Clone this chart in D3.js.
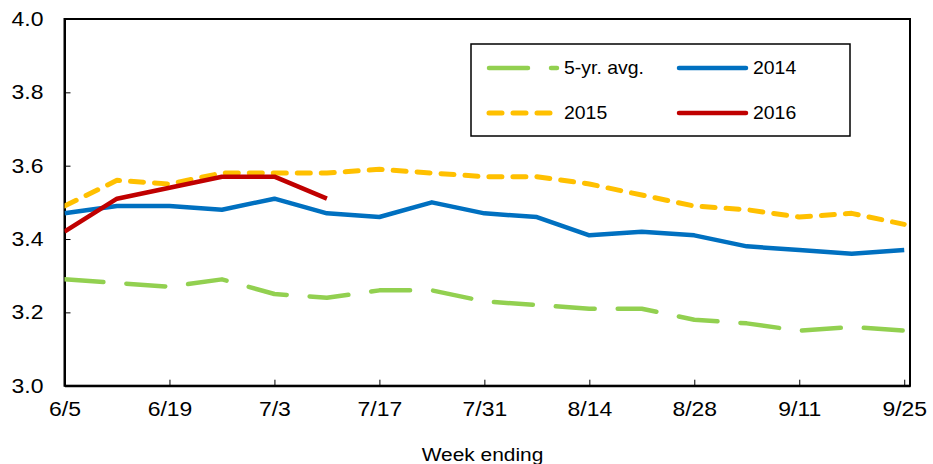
<!DOCTYPE html>
<html>
<head>
<meta charset="utf-8">
<script src="https://cdn.jsdelivr.net/npm/d3@7"></script>
<style>
  html, body { margin: 0; padding: 0; background: #fff; }
  svg { display: block; font-family: "Liberation Sans", Arial, sans-serif; }
</style>
</head>
<body>
<svg id="chart" width="933" height="464"></svg>
<script>
const weeks = ["6/5","6/12","6/19","6/26","7/3","7/10","7/17","7/24","7/31","8/7","8/14","8/21","8/28","9/4","9/11","9/18","9/25"];
const xTickLabels = ["6/5","6/19","7/3","7/17","7/31","8/14","8/28","9/11","9/25"];
const yTicks = [3.0, 3.2, 3.4, 3.6, 3.8, 4.0];
const avg5 = [3.29,3.28,3.27,3.29,3.25,3.24,3.26,3.26,3.23,3.22,3.21,3.21,3.18,3.17,3.15,3.16,3.15];
const y2014 = [3.47,3.49,3.49,3.48,3.51,3.47,3.46,3.50,3.47,3.46,3.41,3.42,3.41,3.38,3.37,3.36,3.37];
const y2015 = [3.49,3.56,3.55,3.58,3.58,3.58,3.59,3.58,3.57,3.57,3.55,3.52,3.49,3.48,3.46,3.47,3.44];
const y2016 = [3.42,3.51,3.54,3.57,3.57,3.51];

const seriesNames = ["5-yr. avg.","2014","2015","2016"];
const seriesColors = ["#92D050","#0070C0","#FFC000","#C00000"];

(function () {
const svg = d3.select("#chart");
const pL = 64.5, pR = 910, pT = 19, pB = 385.7;
const sx = 1.12;

const x = d3.scaleLinear().domain([0, 16.11]).range([pL, pR]);
const y = d3.scaleLinear().domain([3.0, 4.0]).range([pB, pT]);

// frame
svg.append("rect").attr("x", pL).attr("y", pT).attr("width", pR-pL).attr("height", pB-pT)
  .attr("fill", "none").attr("stroke", "#000").attr("stroke-width", 2);

// y axis
const yAxis = d3.axisLeft(y).tickValues(yTicks).tickFormat(d3.format(".1f")).tickSizeInner(-6).tickSizeOuter(0).tickPadding(20);
const gy = svg.append("g").attr("transform", `translate(${pL},0)`).call(yAxis);
gy.select(".domain").attr("stroke", "#000").attr("stroke-width", 2);
gy.selectAll(".tick line").attr("stroke", "#000").attr("stroke-width", 1);
gy.selectAll(".tick text").attr("font-size", 20.5).attr("fill", "#000")
  .attr("font-family", "Liberation Sans, Arial, sans-serif")
  .attr("x", 0).attr("transform", `translate(-21,0) scale(${sx},1)`);

// x axis
const tickIdx = xTickLabels.map(l => weeks.indexOf(l));
const xAxis = d3.axisBottom(x).tickValues(tickIdx).tickFormat(i => weeks[i]).tickSizeInner(-6).tickSizeOuter(0).tickPadding(16);
const gx = svg.append("g").attr("transform", `translate(0,${pB})`).call(xAxis);
gx.select(".domain").attr("stroke", "#000").attr("stroke-width", 2);
gx.selectAll(".tick line").attr("stroke", "#000").attr("stroke-width", 1);
gx.selectAll(".tick text").attr("font-size", 20.5).attr("fill", "#000")
  .attr("font-family", "Liberation Sans, Arial, sans-serif")
  .attr("transform", `scale(${sx},1)`);

svg.append("text").attr("transform", `translate(482.5,461) scale(1.1,1)`).attr("text-anchor", "middle")
  .attr("font-size", 19).attr("fill", "#000").text("Week ending");

const line = d3.line().x((d, i) => x(i)).y(d => y(d));

const styles = [
  { data: avg5, color: seriesColors[0], width: 4.5, dash: "39,23" },
  { data: y2014, color: seriesColors[1], width: 4.5, dash: null },
  { data: y2015, color: seriesColors[2], width: 5, dash: "13,11" },
  { data: y2016, color: seriesColors[3], width: 4.5, dash: null }
];

const plot = svg.append("g");
plot.append("clipPath").attr("id", "clip").append("rect")
  .attr("x", pL).attr("y", pT).attr("width", pR-pL).attr("height", pB-pT);
const drawOrder = [0, 2, 1, 3];
drawOrder.forEach(k => {
  const s = styles[k];
  plot.append("path").datum(s.data).attr("d", line)
    .attr("fill", "none").attr("stroke", s.color).attr("stroke-width", s.width)
    .attr("stroke-linecap", s.dash ? "round" : "butt").attr("stroke-linejoin", "round")
    .attr("stroke-dasharray", s.dash).attr("clip-path", "url(#clip)");
});

// legend
const lg = svg.append("g");
lg.append("rect").attr("x", 471).attr("y", 44).attr("width", 379).attr("height", 92)
  .attr("fill", "#fff").attr("stroke", "#000").attr("stroke-width", 1.5);
const legendPos = [
  { k: 0, x1: 489, x2: 557, tx: 564, ty: 68 },
  { k: 1, x1: 679, x2: 746, tx: 753, ty: 68 },
  { k: 2, x1: 489, x2: 557, tx: 564, ty: 113 },
  { k: 3, x1: 679, x2: 746, tx: 753, ty: 113 }
];
legendPos.forEach(p => {
  const s = styles[p.k];
  lg.append("line").attr("x1", p.x1).attr("x2", p.x2).attr("y1", p.ty).attr("y2", p.ty)
    .attr("stroke", s.color).attr("stroke-width", s.width)
    .attr("stroke-linecap", "round").attr("stroke-dasharray", s.dash);
  lg.append("text").attr("transform", `translate(${p.tx},${p.ty}) scale(1.08,1)`).attr("dy", "0.35em")
    .attr("font-size", 18).attr("fill", "#000").text(seriesNames[p.k]);
});
})();
</script>
</body>
</html>
